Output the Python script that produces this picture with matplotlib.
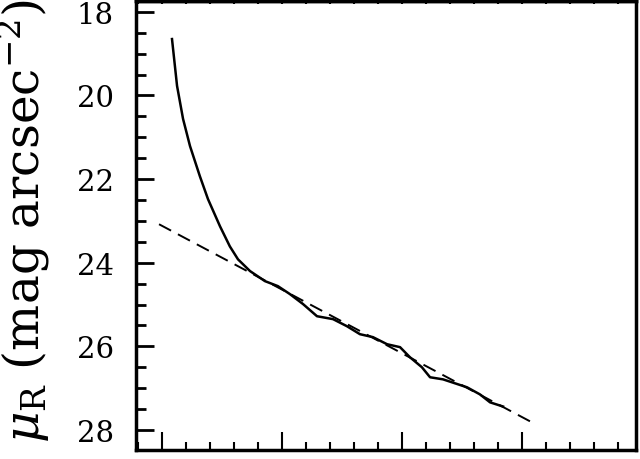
import matplotlib
matplotlib.use("Agg")
import matplotlib.pyplot as plt
from matplotlib.ticker import MultipleLocator

# surface brightness profile (x in arbitrary radius units)
radius = [5.42, 5.63, 5.88, 6.17, 6.58, 6.92, 7.42, 7.83, 8.17, 8.67, 9.29,
          9.83, 10.33, 10.88, 11.46, 12.13, 12.71, 13.25, 13.79, 14.38, 14.92,
          15.33, 15.83, 16.17, 16.71, 17.71, 18.25, 18.67, 19.21]
mu_r = [18.65, 19.77, 20.56, 21.21, 21.93, 22.48, 23.13, 23.61, 23.92, 24.20,
        24.44, 24.56, 24.75, 24.99, 25.28, 25.35, 25.52, 25.71, 25.78, 25.95,
        26.02, 26.26, 26.50, 26.74, 26.79, 26.98, 27.15, 27.34, 27.44]

# exponential disk fit (dashed)
fit_radius = [4.88, 20.42]
fit_mu = [23.08, 27.82]

y_ticks = [18, 20, 22, 24, 26, 28]

plt.rcParams['font.family'] = ['DejaVu Serif']
plt.rcParams['mathtext.fontset'] = 'dejavuserif'

fig = plt.figure(figsize=(6.4, 4.6), dpi=100)
ax = fig.add_axes([136 / 640, 9 / 460, 500 / 640, 449 / 460])

ax.plot(radius, mu_r, color='black', lw=1.8)
ax.plot(fit_radius, fit_mu, color='black', lw=1.4, dashes=(7, 4))

ax.set_xlim(3.92, 24.75)
ax.set_ylim(28.48, 17.74)
ax.set_yticks(y_ticks)
ax.yaxis.set_minor_locator(MultipleLocator(0.5))
ax.xaxis.set_major_locator(MultipleLocator(5))
ax.xaxis.set_minor_locator(MultipleLocator(1))
ax.set_xticklabels([])

ax.tick_params(axis='y', which='major', direction='in', length=13, width=2,
               labelsize=21, pad=16)
ax.tick_params(axis='y', which='minor', direction='in', length=7, width=2)
ax.tick_params(axis='x', which='major', direction='in', length=13, width=1.5)
ax.tick_params(axis='x', which='minor', direction='in', length=6, width=1.5)
for sp in ax.spines.values():
    sp.set_linewidth(2.5)

# tiny ticks along the top edge
top = ax.secondary_xaxis('top')
top.xaxis.set_major_locator(MultipleLocator(1))
top.tick_params(direction='in', length=2.5, width=1.5, labeltop=False)
top.spines['top'].set_linewidth(2.5)

fig.text(23 / 640, 17 / 460, r'$\mu_{\rm R}$ (mag arcsec$^{-2}$)',
         rotation=90, ha='center', va='bottom', fontsize=35)

fig.savefig('out.png', dpi=100)
